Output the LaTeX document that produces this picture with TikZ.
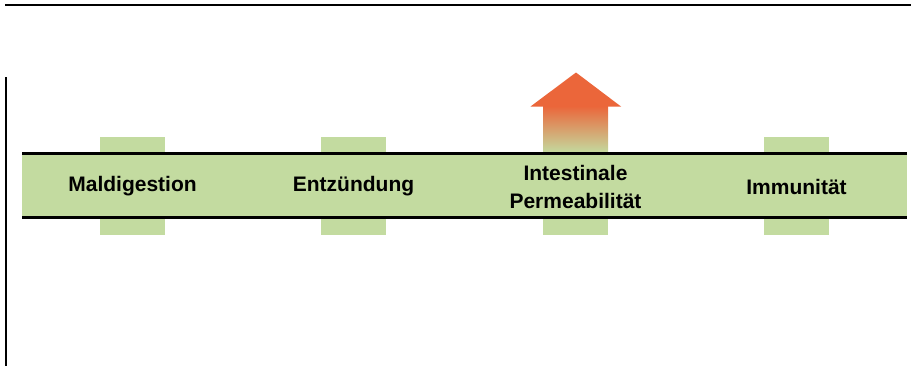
\documentclass[tikz,border=0pt]{standalone}
\usepackage{fontspec}
\setmainfont{Liberation Sans}
\begin{document}
\begin{tikzpicture}[x=1pt,y=-1pt,
  lbl/.style={font=\fontsize{21}{28}\selectfont\bfseries, align=center, text=black, inner sep=0pt}]
\definecolor{bgreen}{RGB}{195,219,160}
\definecolor{aorange}{RGB}{235,102,58}
\useasboundingbox (0,0) rectangle (911,367);
% frame lines
\draw[line width=1.6pt] (5,5) -- (911,5);
\draw[line width=1.8pt] (6,77) -- (6,366);
% tabs
\foreach \cx in {132.5,353.5,796.5} {
  \fill[bgreen] (\cx-32.5,137) rectangle (\cx+32.5,235);
}
\fill[bgreen] (543,152) rectangle (608,235);
% arrow
\shade[top color=aorange, bottom color=bgreen] (543,106) rectangle (608,153);
\fill[aorange] (530.5,106.5) -- (576,72.5) -- (621,106.5) -- cycle;
% band
\fill[bgreen] (22,153) rectangle (907,217.5);
\draw[line width=3.4pt] (22,153.3) -- (907,153.3);
\draw[line width=3.4pt] (22,217.5) -- (907,217.5);
% labels
\node[lbl] (mal) at (132.5,186.5) {Maldigestion};
\node[lbl] (ent) at (353.5,186.5) {Entzündung};
\node[lbl] (perm) at (575.5,186.5) {Intestinale\\Permeabilität};
\node[lbl] (imm) at (796.5,186.5) {Immunität};
\end{tikzpicture}
\end{document}
